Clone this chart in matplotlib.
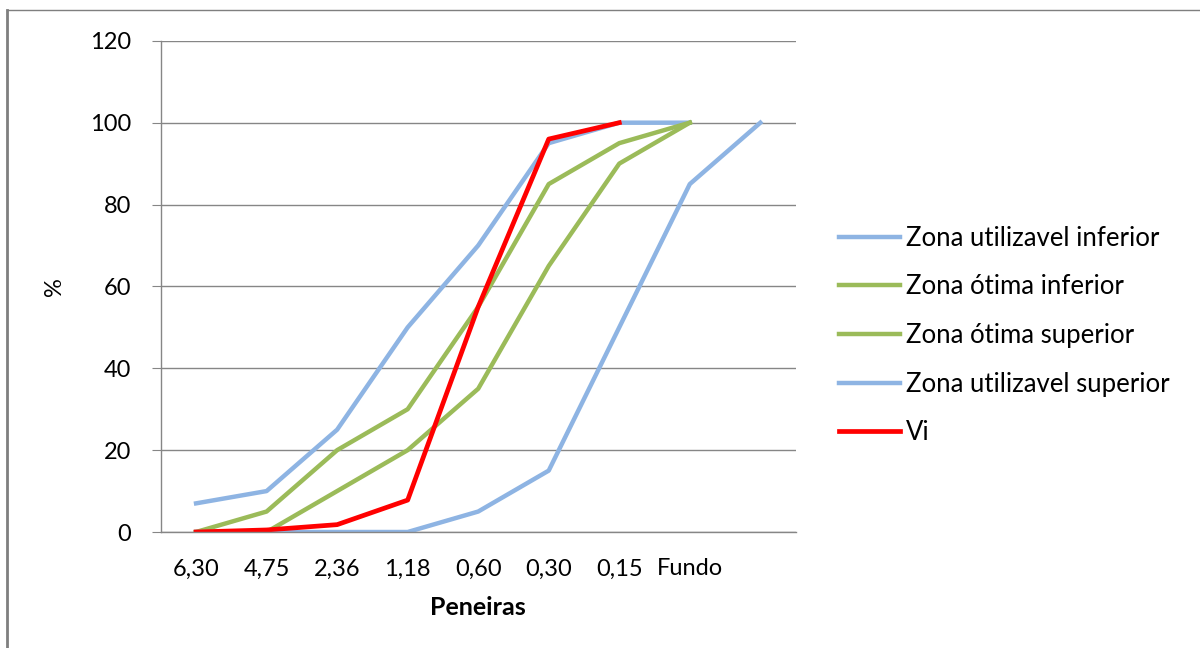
import matplotlib.pyplot as plt
from matplotlib.lines import Line2D

peneiras = ['6,30', '4,75', '2,36', '1,18', '0,60', '0,30', '0,15', 'Fundo', '']

util_inferior = [7, 10, 25, 50, 70, 95, 100, 100]
otima_inferior = [0, 5, 20, 30, 55, 85, 95, 100]
otima_superior = [0, 0, 10, 20, 35, 65, 90, 100]
util_superior = [0, 0, 0, 0, 5, 15, 50, 85, 100]
vi = [0, 0.5, 1.8, 7.8, 55, 96, 100]

azul = '#8EB4E3'
verde = '#9BBB59'
vermelho = '#FF0000'
cinza = '#868686'

plt.rcParams['font.family'] = ['Lato', 'DejaVu Sans']

fig = plt.figure(figsize=(12, 6.48), dpi=100)
ax = fig.add_axes([0.134, 0.179, 0.529, 0.758])

x = range(len(peneiras))
ax.plot(x[:len(util_inferior)], util_inferior, color=azul, lw=3.2, label='Zona utilizavel inferior')
ax.plot(x[:len(otima_inferior)], otima_inferior, color=verde, lw=3.2, label='Zona ótima inferior')
ax.plot(x[:len(otima_superior)], otima_superior, color=verde, lw=3.2, label='Zona ótima superior')
ax.plot(x[:len(util_superior)], util_superior, color=azul, lw=3.2, label='Zona utilizavel superior')
ax.plot(x[:len(vi)], vi, color=vermelho, lw=3.4, label='Vi')

ax.set_xlim(-0.5, len(peneiras) - 0.5)
ax.set_ylim(0, 120)
ax.set_yticks(range(0, 121, 20))
ax.set_xticks(list(x))
ax.set_xticklabels(peneiras, fontsize=17)
ax.tick_params(axis='x', length=0, pad=19)
ax.tick_params(axis='y', length=6.5, color=cinza, labelsize=17, pad=15)
ax.grid(axis='y', color=cinza, lw=1)
ax.set_axisbelow(True)
for s in ['top', 'right']:
    ax.spines[s].set_visible(False)
for s in ['left', 'bottom']:
    ax.spines[s].set_color(cinza)
    ax.spines[s].set_linewidth(1)

ax.set_ylabel('%', fontsize=17)
ax.yaxis.set_label_coords(-0.151, 0.5)
ax.set_xlabel('Peneiras', fontsize=18, fontweight='bold')
ax.xaxis.set_label_coords(0.5, -0.13)

leg = ax.legend(loc='center left', bbox_to_anchor=(1.068, 0.40), frameon=False,
                borderaxespad=0, borderpad=0,
                fontsize=18.5, handlelength=2.4, handletextpad=0.2, labelspacing=0.92)

# moldura da figura
fig.add_artist(Line2D([7 / 1200, 7 / 1200], [0, 1 - 10 / 648], color='#7f7f7f', lw=2,
                      transform=fig.transFigure))
fig.add_artist(Line2D([7 / 1200, 1], [1 - 10 / 648, 1 - 10 / 648], color='#7f7f7f', lw=1,
                      transform=fig.transFigure))

fig.savefig('out.png', dpi=100)
